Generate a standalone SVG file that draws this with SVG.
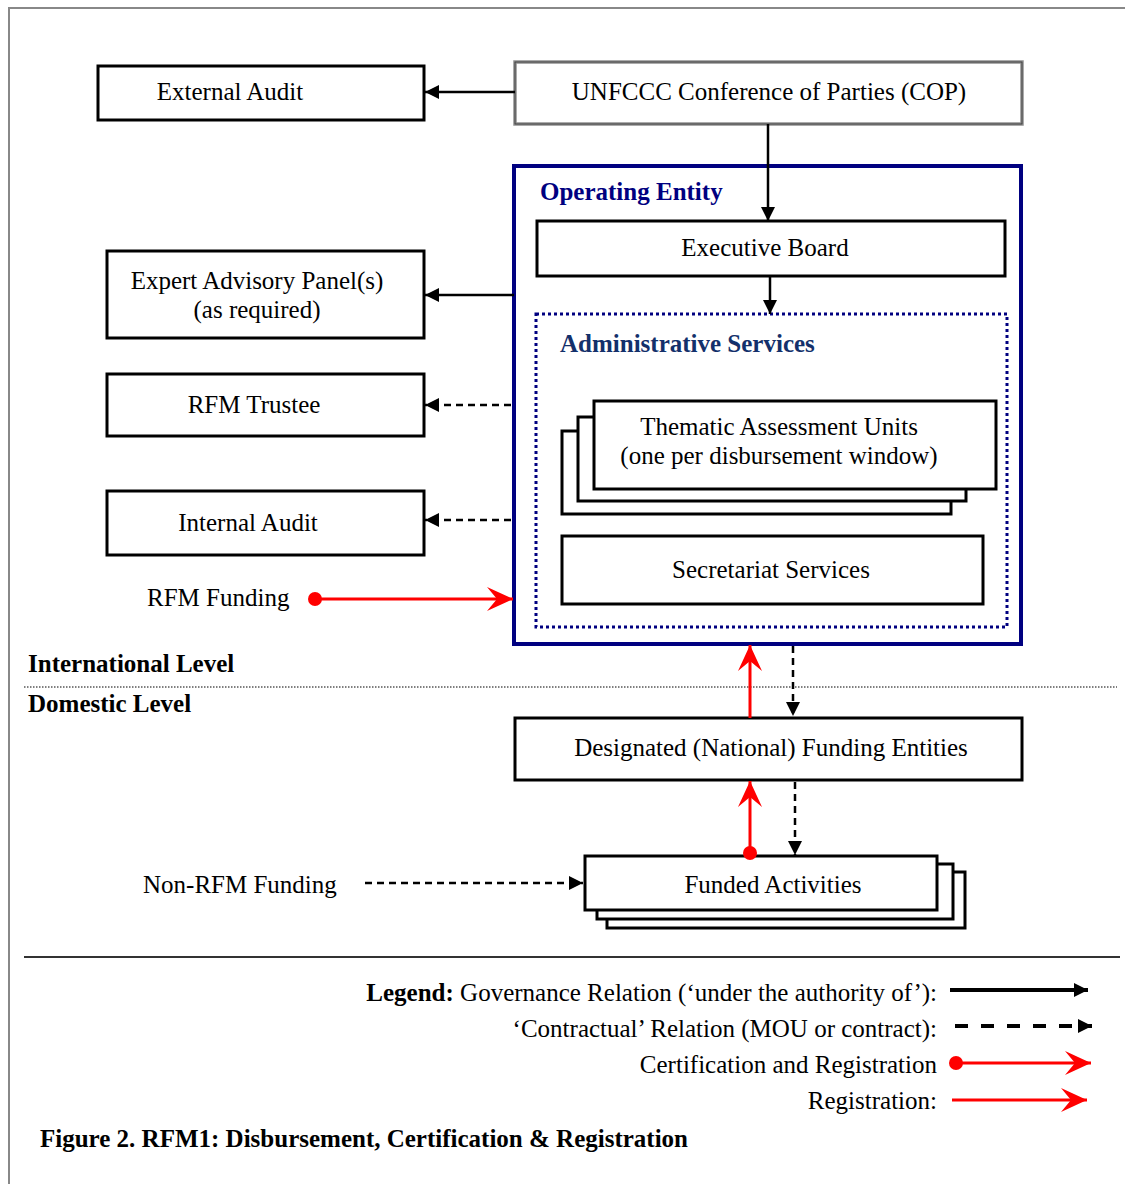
<svg xmlns="http://www.w3.org/2000/svg" width="1125" height="1184" viewBox="0 0 1125 1184">
<defs>
<style>
text{font-family:"Liberation Serif","Times New Roman",serif;font-size:25px;fill:#000}
.c{text-anchor:middle}
.r{text-anchor:end}
.b{font-weight:bold}
.box{fill:#fff;stroke:#000;stroke-width:3}
.ln{fill:none;stroke:#000;stroke-width:2.5}
.dash{fill:none;stroke:#000;stroke-width:2.5;stroke-dasharray:7,5}
.red{fill:none;stroke:#f00;stroke-width:3}
</style>
<marker id="ab" markerUnits="userSpaceOnUse" markerWidth="16" markerHeight="16" refX="14" refY="8" orient="auto"><path d="M0,1 L14,8 L0,15 z" fill="#000"/></marker>
<marker id="ar" markerUnits="userSpaceOnUse" markerWidth="28" markerHeight="26" refX="26" refY="13" orient="auto"><path d="M0,1 L26,13 L0,25 L10,13 z" fill="#f00"/></marker>
</defs>
<rect width="1125" height="1184" fill="#fff"/>
<path d="M9,1184 V8 H1125" fill="none" stroke="#888" stroke-width="2"/>

<g id="external-audit"><rect class="box" x="98" y="66" width="326" height="54"/><text class="c" x="230" y="100">External Audit</text></g>
<g id="cop"><rect x="515" y="62" width="507" height="62" fill="#fff" stroke="#909090" stroke-width="3.5"/><rect x="515" y="62" width="507" height="62" fill="none" stroke="#333" stroke-width="0.8"/><text class="c" x="769" y="100">UNFCCC Conference of Parties (COP)</text></g>
<g id="operating-entity"><rect x="514" y="166" width="507" height="478" fill="#fff" stroke="#000080" stroke-width="4"/><text class="b" x="540" y="200" style="fill:#000080">Operating Entity</text></g>
<g id="executive-board"><rect class="box" x="537" y="221" width="468" height="55"/><text class="c" x="765" y="256">Executive Board</text></g>
<g id="administrative-services"><rect x="536" y="314" width="471" height="313" fill="none" stroke="#000080" stroke-width="3" stroke-dasharray="3,3"/><text class="b" x="560" y="352" style="fill:#13306b">Administrative Services</text></g>
<g id="thematic-assessment-units">
<rect class="box" x="562" y="431" width="389" height="83"/>
<rect class="box" x="578" y="417" width="388" height="84"/>
<rect class="box" x="594" y="401" width="402" height="88"/>
<text class="c" x="779" y="435">Thematic Assessment Units</text>
<text class="c" x="779" y="464">(one per disbursement window)</text>
</g>
<g id="secretariat-services"><rect class="box" x="562" y="536" width="421" height="68"/><text class="c" x="771" y="578">Secretariat Services</text></g>
<g id="expert-advisory-panel"><rect class="box" x="107" y="251" width="317" height="87"/><text class="c" x="257" y="289">Expert Advisory Panel(s)</text><text class="c" x="257" y="318">(as required)</text></g>
<g id="rfm-trustee"><rect class="box" x="107" y="374" width="317" height="62"/><text class="c" x="254" y="413">RFM Trustee</text></g>
<g id="internal-audit"><rect class="box" x="107" y="491" width="317" height="64"/><text class="c" x="248" y="531">Internal Audit</text></g>
<g id="rfm-funding"><text x="147" y="606">RFM Funding</text></g>
<g id="designated-funding-entities"><rect class="box" x="515" y="718" width="507" height="62"/><text class="c" x="771" y="756">Designated (National) Funding Entities</text></g>
<g id="funded-activities">
<rect class="box" x="607" y="872" width="358" height="56"/>
<rect class="box" x="597" y="864" width="356" height="55"/>
<rect class="box" x="585" y="856" width="352" height="54"/>
<text class="c" x="773" y="893">Funded Activities</text>
</g>
<g id="non-rfm-funding"><text x="143" y="893">Non-RFM Funding</text></g>

<g id="levels">
<text class="b" x="28" y="672">International Level</text>
<line x1="24" y1="687" x2="1117" y2="687" stroke="#000" stroke-width="1" stroke-dasharray="1.5,1.5"/>
<text class="b" x="28" y="712">Domestic Level</text>
</g>

<g id="connectors">
<line class="ln" x1="515" y1="92" x2="425" y2="92" marker-end="url(#ab)"/>
<line class="ln" x1="768" y1="124" x2="768" y2="221" marker-end="url(#ab)"/>
<line class="ln" x1="770" y1="276" x2="770" y2="314" marker-end="url(#ab)"/>
<line class="ln" x1="514" y1="295" x2="425" y2="295" marker-end="url(#ab)"/>
<line class="dash" x1="511" y1="405" x2="425" y2="405" marker-end="url(#ab)"/>
<line class="dash" x1="511" y1="520" x2="425" y2="520" marker-end="url(#ab)"/>
<line class="red" x1="315" y1="599" x2="513" y2="599" marker-end="url(#ar)"/>
<circle cx="315" cy="599" r="7" fill="#f00"/>
<line class="red" x1="750" y1="718" x2="750" y2="645" marker-end="url(#ar)"/>
<line class="dash" x1="793" y1="646" x2="793" y2="716" marker-end="url(#ab)"/>
<line class="red" x1="750" y1="853" x2="750" y2="781" marker-end="url(#ar)"/>
<circle cx="750" cy="853" r="7" fill="#f00"/>
<line class="dash" x1="795" y1="782" x2="795" y2="855" marker-end="url(#ab)"/>
<line class="dash" x1="365" y1="883" x2="583" y2="883" marker-end="url(#ab)"/>
</g>

<g id="legend">
<line x1="24" y1="957" x2="1120" y2="957" stroke="#333" stroke-width="2"/>
<text class="r" x="937" y="1001"><tspan class="b">Legend:</tspan> Governance Relation (‘under the authority of’):</text>
<text class="r" x="937" y="1037">‘Contractual’ Relation (MOU or contract):</text>
<text class="r" x="937" y="1073">Certification and Registration</text>
<text class="r" x="937" y="1109">Registration:</text>
<line x1="950" y1="990" x2="1088" y2="990" stroke="#000" stroke-width="4" marker-end="url(#ab)"/>
<line x1="955" y1="1026" x2="1092" y2="1026" stroke="#000" stroke-width="4" stroke-dasharray="13,13" marker-end="url(#ab)"/>
<line class="red" x1="956" y1="1063" x2="1091" y2="1063" marker-end="url(#ar)"/>
<circle cx="956" cy="1063" r="7" fill="#f00"/>
<line class="red" x1="952" y1="1100" x2="1087" y2="1100" marker-end="url(#ar)"/>
</g>
<text class="b" x="40" y="1147">Figure 2. RFM1: Disbursement, Certification &amp; Registration</text>
</svg>
